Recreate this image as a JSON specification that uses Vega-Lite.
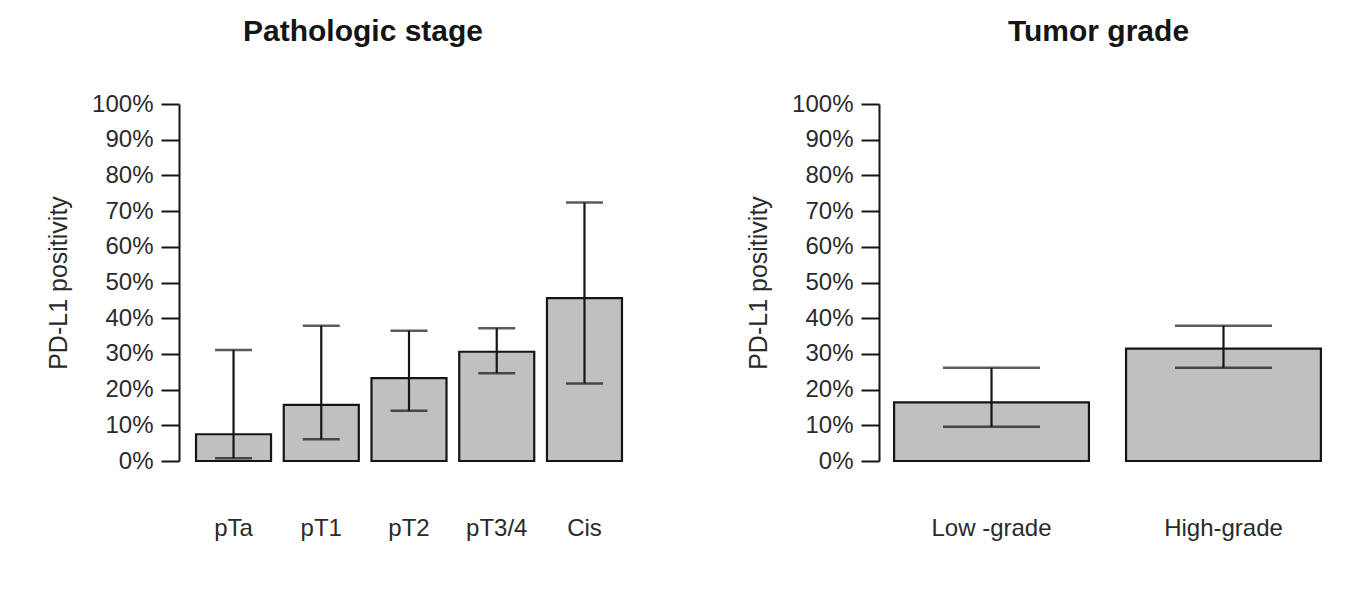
{
  "$schema": "https://vega.github.io/schema/vega-lite/v6.json",
  "padding": {"left": 46, "top": 17, "right": 5, "bottom": 5},
  "background": "white",
  "spacing": 107,
  "datasets": {
    "stage": [
      {"group": "pTa", "rate": 0.075, "lo": 0.0075, "hi": 0.311},
      {"group": "pT1", "rate": 0.157, "lo": 0.061, "hi": 0.379},
      {"group": "pT2", "rate": 0.232, "lo": 0.141, "hi": 0.365},
      {"group": "pT3/4", "rate": 0.306, "lo": 0.246, "hi": 0.372},
      {"group": "Cis", "rate": 0.456, "lo": 0.217, "hi": 0.724}
    ],
    "grade": [
      {"group": "Low -grade", "rate": 0.164, "lo": 0.096, "hi": 0.261},
      {"group": "High-grade", "rate": 0.315, "lo": 0.261, "hi": 0.379}
    ]
  },
  "hconcat": [
    {
      "width": 460,
      "height": 357,
      "data": {"name": "stage"},
      "title": {"text": "Pathologic stage", "frame": "group", "dx": -46},
      "encoding": {
        "x": {
          "field": "group", "type": "nominal", "sort": null,
          "scale": {"paddingInner": 0.145, "paddingOuter": 0.194},
          "axis": {"title": null}
        }
      },
      "layer": [
        {
          "mark": {"type": "bar", "fill": "#c0c0c0", "stroke": "#151515", "strokeWidth": 2.2},
          "encoding": {
            "y": {"field": "rate", "type": "quantitative", "scale": {"domain": [0, 1]}, "title": "PD-L1 positivity"}
          }
        },
        {
          "mark": {"type": "rule", "color": "#151515", "strokeWidth": 2.2},
          "encoding": {"y": {"field": "lo", "type": "quantitative"}, "y2": {"field": "hi"}}
        },
        {
          "mark": {"type": "tick", "color": "#151515", "thickness": 2.5, "size": 37},
          "encoding": {"y": {"field": "lo", "type": "quantitative"}}
        },
        {
          "mark": {"type": "tick", "color": "#151515", "thickness": 2.5, "size": 37},
          "encoding": {"y": {"field": "hi", "type": "quantitative"}}
        }
      ]
    },
    {
      "width": 457,
      "height": 357,
      "data": {"name": "grade"},
      "title": {"text": "Tumor grade", "frame": "group", "dx": -9},
      "encoding": {
        "x": {
          "field": "group", "type": "nominal", "sort": null,
          "scale": {"paddingInner": 0.16, "paddingOuter": 0.065},
          "axis": {"title": null}
        }
      },
      "layer": [
        {
          "mark": {"type": "bar", "fill": "#c0c0c0", "stroke": "#151515", "strokeWidth": 2.2},
          "encoding": {
            "y": {"field": "rate", "type": "quantitative", "scale": {"domain": [0, 1]}, "title": "PD-L1 positivity"}
          }
        },
        {
          "mark": {"type": "rule", "color": "#151515", "strokeWidth": 2.2},
          "encoding": {"y": {"field": "lo", "type": "quantitative"}, "y2": {"field": "hi"}}
        },
        {
          "mark": {"type": "tick", "color": "#151515", "thickness": 2.5, "size": 97},
          "encoding": {"y": {"field": "lo", "type": "quantitative"}}
        },
        {
          "mark": {"type": "tick", "color": "#151515", "thickness": 2.5, "size": 97},
          "encoding": {"y": {"field": "hi", "type": "quantitative"}}
        }
      ]
    }
  ],
  "config": {
    "font": "Liberation Sans",
    "view": {"stroke": null},
    "title": {"fontSize": 30, "fontWeight": "bold", "color": "#151515", "offset": 45, "anchor": "middle"},
    "axis": {
      "labelFont": "Liberation Sans", "labelFontSize": 24, "labelColor": "#2a2a2a",
      "titleFont": "Liberation Sans", "titleFontSize": 25, "titleFontWeight": "normal", "titleColor": "#2a2a2a",
      "grid": false
    },
    "axisY": {
      "values": [0, 0.1, 0.2, 0.3, 0.4, 0.5, 0.6, 0.7, 0.8, 0.9, 1],
      "format": ".0%",
      "domainColor": "#151515", "domainWidth": 2,
      "tickColor": "#151515", "tickWidth": 2, "tickSize": 18,
      "labelPadding": 8, "titlePadding": 20
    },
    "axisX": {
      "domain": false, "ticks": false, "labelAngle": 0, "labelPadding": 55
    }
  }
}
